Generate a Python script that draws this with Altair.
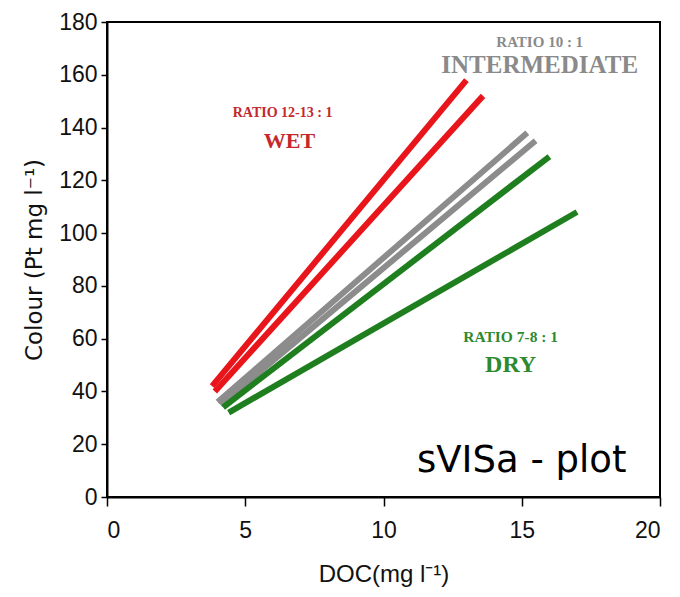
import altair as alt
import pandas as pd

# Regression lines (start/end points)
line_ids = ["wet1", "wet2", "int1", "int2", "dry1", "dry2"]
line_group = ["WET", "WET", "INTERMEDIATE", "INTERMEDIATE", "DRY", "DRY"]
x_start = [3.8, 3.9, 4.0, 4.1, 4.2, 4.4]
y_start = [42, 40, 36, 35, 34, 32]
x_end = [13.0, 13.6, 15.2, 15.5, 16.0, 17.0]
y_end = [158, 152, 138, 135, 129, 108]

groups = ["WET", "INTERMEDIATE", "DRY"]
line_colors = ["#e8151b", "#8c8c8c", "#1f7f1f"]
text_colors = ["#c3282d", "#8a8a8a", "#2e8a2e"]

# Annotations
ann_text = ["RATIO 12-13 : 1", "WET", "RATIO 10 : 1", "INTERMEDIATE", "RATIO 7-8 : 1", "DRY"]
ann_group = ["WET", "WET", "INTERMEDIATE", "INTERMEDIATE", "DRY", "DRY"]
ann_x = [6.35, 6.6, 15.65, 15.65, 14.6, 14.6]
ann_y = [145.5, 135.0, 172.6, 163.8, 60.6, 50.2]
ann_size = [14, 22, 15, 25, 15.5, 24]

rows = []
for i, lid in enumerate(line_ids):
    rows.append({"id": lid, "group": line_group[i], "x": x_start[i], "y": y_start[i], "o": 0})
    rows.append({"id": lid, "group": line_group[i], "x": x_end[i], "y": y_end[i], "o": 1})
lines_df = pd.DataFrame(rows)

ann_df = pd.DataFrame({"text": ann_text, "group": ann_group, "x": ann_x, "y": ann_y, "size": ann_size})

xscale = alt.Scale(domain=[0, 20], nice=False, zero=True)
yscale = alt.Scale(domain=[0, 180], nice=False)

lines = alt.Chart(lines_df).mark_line(strokeWidth=6, strokeCap="butt").encode(
    x=alt.X("x:Q", scale=xscale,
            axis=alt.Axis(title="DOC(mg l⁻¹)", values=[0, 5, 10, 15, 20], grid=False,
                          tickSize=9, labelPadding=13, titlePadding=20,
                          titleFontSize=24)),
    y=alt.Y("y:Q", scale=yscale,
            axis=alt.Axis(title="Colour (Pt mg l⁻¹)", values=list(range(0, 181, 20)), grid=False,
                          tickSize=6, labelPadding=4, titlePadding=12,
                          titleFont="DejaVu Sans", titleFontSize=23)),
    color=alt.Color("group:N", scale=alt.Scale(domain=groups, range=line_colors), legend=None),
    detail="id:N",
    order="o:Q",
)

ann = alt.Chart(ann_df).mark_text(font="Liberation Serif", fontWeight="bold", align="center", baseline="middle").encode(
    x=alt.X("x:Q", scale=xscale),
    y=alt.Y("y:Q", scale=yscale),
    text="text:N",
    size=alt.Size("size:Q", scale=None, legend=None),
    color=alt.Color("group:N", scale=alt.Scale(domain=groups, range=text_colors), legend=None),
)

tag_df = pd.DataFrame({"text": ["sVISa - plot"], "x": [15.0], "y": [13.5]})
tag = alt.Chart(tag_df).mark_text(font="DejaVu Sans", fontSize=37, color="black", align="center", baseline="middle").encode(
    x=alt.X("x:Q", scale=xscale),
    y=alt.Y("y:Q", scale=yscale),
    text="text:N",
)

chart = alt.layer(lines, ann, tag).resolve_scale(color="independent").properties(
    width=553, height=475,
    autosize=alt.AutoSizeParams(type="none"),
    padding={"left": 99, "top": 14, "right": 12, "bottom": 92},
).configure_view(
    stroke="black", strokeWidth=2
).configure_axis(
    domainColor="black", domainWidth=2, tickColor="black", tickWidth=1.5,
    labelFont="Liberation Sans", labelFontSize=23, labelColor="#111111",
    titleFont="Liberation Sans", titleFontWeight="normal", titleColor="#111111",
)

chart.save("out.html", embed_options={"renderer": "svg", "actions": False})
